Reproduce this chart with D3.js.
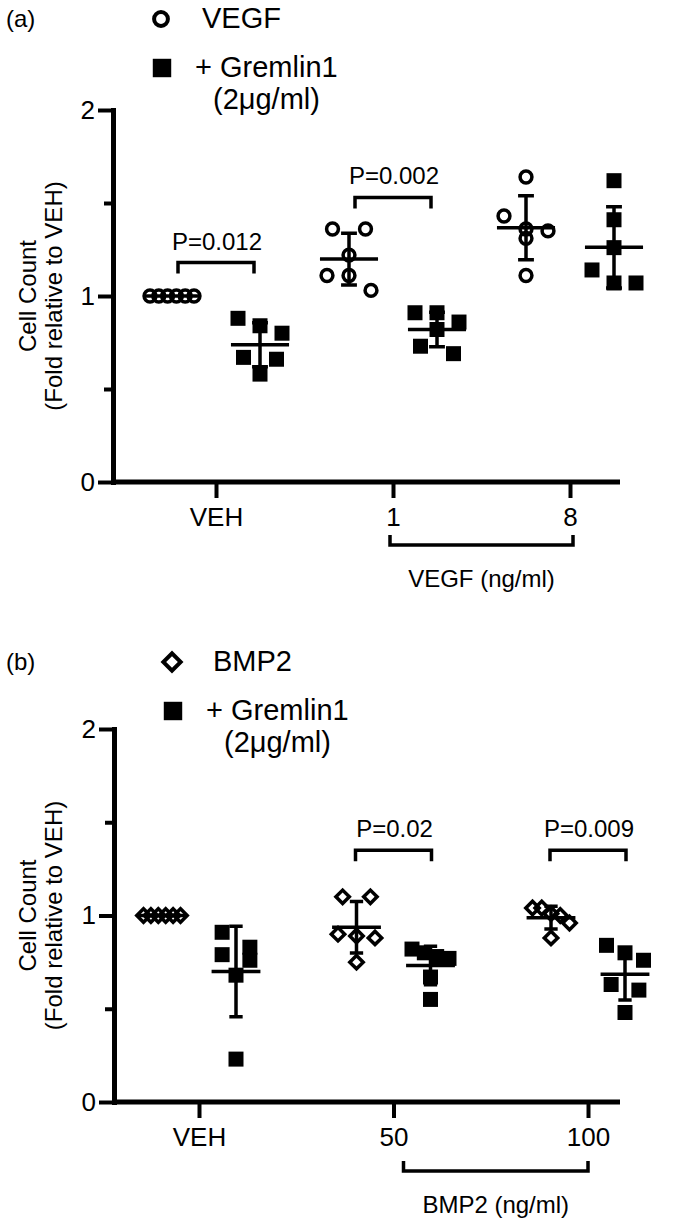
<!DOCTYPE html>
<html>
<head>
<meta charset="utf-8">
<script src="https://cdn.jsdelivr.net/npm/d3@7"></script>
<style>
  body { margin: 0; background: #fff; }
  svg { display: block; font-family: "Liberation Sans", Arial, Helvetica, sans-serif; }
</style>
</head>
<body>
<div id="chart"></div>
<script>
// panel (a): VEGF with / without Gremlin1
const dosesA = ["VEH", "1", "8"];
const vegfA = [
    [1.0, 1.0, 1.0, 1.0, 1.0, 1.0],
    [1.36, 1.36, 1.22, 1.11, 1.11, 1.03],
    [1.64, 1.43, 1.36, 1.35, 1.31, 1.11]
];
const gremA = [
    [0.88, 0.84, 0.80, 0.67, 0.66, 0.58],
    [0.91, 0.91, 0.86, 0.82, 0.73, 0.69],
    [1.62, 1.41, 1.26, 1.14, 1.07, 1.07]
];
const pDoseA = ["VEH", "1"];
const pTextA = ["P=0.012", "P=0.002"];
const pLevelA = [1.18, 1.53];

// panel (b): BMP2 with / without Gremlin1
const dosesB = ["VEH", "50", "100"];
const bmpB = [
    [1.0, 1.0, 1.0, 1.0, 1.0, 1.0],
    [1.10, 1.10, 0.90, 0.89, 0.88, 0.75],
    [1.04, 1.04, 1.01, 1.00, 0.96, 0.88]
];
const gremB = [
    [0.91, 0.83, 0.79, 0.76, 0.68, 0.23],
    [0.82, 0.80, 0.78, 0.77, 0.67, 0.55],
    [0.84, 0.80, 0.76, 0.63, 0.60, 0.48]
];
const pDoseB = ["50", "100"];
const pTextB = ["P=0.02", "P=0.009"];
const pLevelB = [1.35, 1.35];

const majorTicks = [0, 1, 2];
const minorTicks = [0.5, 1.5];

const W = 680, H = 1224;
const svg = d3.select("#chart").append("svg")
    .attr("width", W)
    .attr("height", H);

const markers = {
    circle:  { type: d3.symbolCircle, size: 110, fill: "none", rot: 0 },
    square:  { type: d3.symbolSquare, size: 225, fill: "#000", rot: 0 },
    diamond: { type: d3.symbolSquare, size: 90,  fill: "none", rot: 45 }
};

// spread points that sit at about the same height, like a column scatter
function swarm(vals, y, half) {
    const order = vals.map((v, i) => i).sort((a, b) => vals[b] - vals[a]);
    const rows = [];
    order.forEach(i => {
        const last = rows[rows.length - 1];
        if (last && Math.abs(y(vals[i]) - y(vals[last[0]])) < 16) last.push(i);
        else rows.push([i]);
    });
    const offs = new Array(vals.length);
    rows.forEach(r => {
        const n = r.length;
        const s = n > 1 ? Math.min(0.75 * half, half / (n - 1)) : 0;
        r.forEach((i, k) => { offs[i] = (k - (n - 1) / 2) * s; });
    });
    return offs;
}

function drawPanel(c) {
    const g = svg.append("g");
    const y = d3.scaleLinear().domain([0, 2]).range([c.y0, c.y2]);
    const x = d3.scalePoint().domain(c.doses).range(c.xRange);
    const sub = d3.scalePoint().domain([0, 1]).range([-c.off, c.off]);

    // y axis
    const yMajor = g.append("g")
        .attr("transform", `translate(${c.axisX},0)`)
        .call(d3.axisLeft(y).tickValues(majorTicks).tickSize(15).tickSizeOuter(0).tickPadding(3).tickFormat(d3.format("d")));
    const yMinor = g.append("g")
        .attr("transform", `translate(${c.axisX},0)`)
        .call(d3.axisLeft(y).tickValues(minorTicks).tickSize(9).tickSizeOuter(0).tickFormat(""));
    [yMajor, yMinor].forEach(a => {
        a.select(".domain").attr("stroke-width", 5).attr("stroke-linecap", "square");
        a.selectAll(".tick line").attr("stroke-width", 4);
    });
    yMajor.selectAll(".tick text")
        .attr("font-size", 26)
        .attr("font-family", "Liberation Sans, Arial, sans-serif")
        .attr("fill", "#000");

    // x axis
    g.append("line")
        .attr("x1", c.axisX - 2).attr("x2", 620)
        .attr("y1", c.y0).attr("y2", c.y0)
        .attr("stroke", "#000").attr("stroke-width", 5);
    const xa = g.append("g")
        .attr("transform", `translate(0,${c.y0})`)
        .call(d3.axisBottom(x).tickSize(16).tickPadding(10));
    xa.select(".domain").remove();
    xa.selectAll(".tick line").attr("stroke-width", 4);
    xa.selectAll(".tick text")
        .attr("font-size", 26)
        .attr("font-family", "Liberation Sans, Arial, sans-serif")
        .attr("fill", "#000");

    // bracket below the dose ticks
    const bx1 = x(c.doses[1]) + c.brDx[0], bx2 = x(c.doses[2]) + c.brDx[1];
    g.append("path")
        .attr("d", `M${bx1},${c.brY - 10}V${c.brY}H${bx2}V${c.brY - 10}`)
        .attr("fill", "none").attr("stroke", "#000").attr("stroke-width", 3.5);
    g.append("text")
        .attr("x", (bx1 + bx2) / 2).attr("y", c.brY + 42)
        .attr("text-anchor", "middle").attr("font-size", 24)
        .text(c.brLabel);

    // y title
    const yt = g.append("g")
        .attr("transform", `translate(0,${y(1)}) rotate(-90)`);
    yt.append("text").attr("y", 36).attr("text-anchor", "middle").attr("font-size", 24).text("Cell Count");
    yt.append("text").attr("y", 62).attr("text-anchor", "middle").attr("font-size", 24).text("(Fold relative to VEH)");

    // points, mean and SD
    c.series.forEach((ser, si) => {
        const m = markers[ser.marker];
        ser.values.forEach((vals, di) => {
            const cx = x(c.doses[di]) + sub(si);
            const offs = swarm(vals, y, c.off);
            g.append("g").selectAll("path")
                .data(vals)
                .join("path")
                .attr("d", d3.symbol(m.type, m.size))
                .attr("transform", (d, i) => `translate(${cx + offs[i]},${y(d)}) rotate(${m.rot})`)
                .attr("fill", m.fill)
                .attr("stroke", "#000")
                .attr("stroke-width", m.fill === "none" ? 3.5 : 0);

            const mean = d3.mean(vals);
            const sd = d3.deviation(vals) || 0;
            const cap = 0.18 * c.off, ml = 0.66 * c.off;
            g.append("path")
                .attr("d", `M${cx},${y(mean + sd)}V${y(mean - sd)}` +
                           `M${cx - cap},${y(mean + sd)}H${cx + cap}` +
                           `M${cx - cap},${y(mean - sd)}H${cx + cap}` +
                           `M${cx - ml},${y(mean)}H${cx + ml}`)
                .attr("fill", "none").attr("stroke", "#000").attr("stroke-width", 3.5);
        });
    });

    // significance brackets
    c.pDose.forEach((d, i) => {
        const px = x(d), py = y(c.pLevel[i]), hw = 38;
        g.append("path")
            .attr("d", `M${px - hw},${py + 11}V${py}H${px + hw}V${py + 11}`)
            .attr("fill", "none").attr("stroke", "#000").attr("stroke-width", 3.5);
        g.append("text")
            .attr("x", px + 1).attr("y", py - 13)
            .attr("text-anchor", "middle").attr("font-size", 24)
            .text(c.pText[i]);
    });

    // panel letter and legend
    g.append("text").attr("x", 6).attr("y", c.legY - 1).attr("font-size", 24).text(c.letter);
    const lg = c.legend;
    const m0 = markers[lg.first];
    g.append("path")
        .attr("d", d3.symbol(m0.type, 150))
        .attr("transform", `translate(${lg.mx},${c.legY - 9}) rotate(${m0.rot})`)
        .attr("fill", "none").attr("stroke", "#000").attr("stroke-width", 4);
    g.append("text").attr("x", lg.tx).attr("y", c.legY).attr("font-size", 29).text(lg.label);
    g.append("path")
        .attr("d", d3.symbol(d3.symbolSquare, 340))
        .attr("transform", `translate(${lg.mx + 1},${c.legY + 40})`)
        .attr("fill", "#000");
    g.append("text").attr("x", lg.tx - 7).attr("y", c.legY + 49).attr("font-size", 29).text("+ Gremlin1");
    g.append("text").attr("x", lg.tx + 11).attr("y", c.legY + 81).attr("font-size", 29).text("(2\u03bcg/ml)");
}

drawPanel({
    letter: "(a)", legY: 28,
    legend: { first: "circle", label: "VEGF", mx: 161, tx: 202 },
    doses: dosesA, xRange: [216, 570], off: 44,
    y0: 482, y2: 110, axisX: 113,
    series: [
        { marker: "circle", values: vegfA },
        { marker: "square", values: gremA }
    ],
    pDose: pDoseA, pText: pTextA, pLevel: pLevelA,
    brY: 545, brDx: [-3, 3], brLabel: "VEGF (ng/ml)"
});

drawPanel({
    letter: "(b)", legY: 671,
    legend: { first: "diamond", label: "BMP2", mx: 172, tx: 213 },
    doses: dosesB, xRange: [199, 588], off: 37,
    y0: 1102, y2: 729, axisX: 114,
    series: [
        { marker: "diamond", values: bmpB },
        { marker: "square", values: gremB }
    ],
    pDose: pDoseB, pText: pTextB, pLevel: pLevelB,
    brY: 1171, brDx: [10, 0], brLabel: "BMP2 (ng/ml)"
});
</script>
</body>
</html>
